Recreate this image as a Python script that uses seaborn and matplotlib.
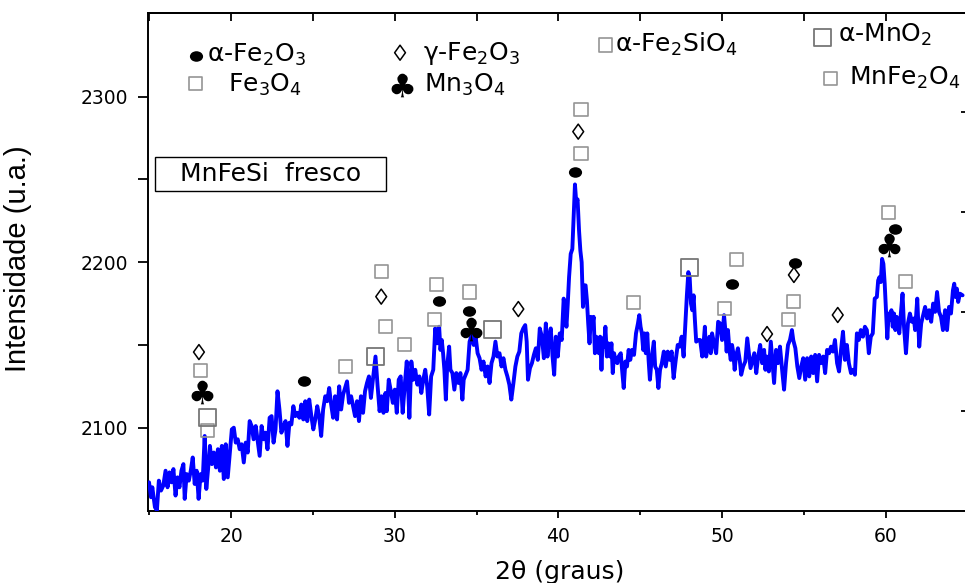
import numpy as np
import pandas as pd
import matplotlib
matplotlib.use("Agg")
import matplotlib.pyplot as plt
from matplotlib.path import Path
from matplotlib.patches import Rectangle
import seaborn as sns

# ---------------- data ----------------
two_theta_a = [14.98,15.10,15.18,15.34,15.46,15.58,15.71,15.85,15.99,16.11,16.23,16.35,16.47,16.60,16.72,16.84,16.96,17.08,17.16,17.28,
               17.41,17.53,17.65,17.77,17.89,18.01,18.13,18.26,18.38,18.48,18.58,18.70,18.82,18.94,19.07,19.19,19.31,19.43,19.55,19.67,
               19.79,19.92,20.04,20.16,20.28,20.40,20.52,20.64,20.77,20.89,21.01,21.13,21.25,21.37,21.50,21.62,21.74,21.86,21.98,22.10,
               22.22,22.35,22.47,22.59,22.71,22.83,22.95,23.07,23.20,23.32,23.44,23.56,23.68,23.80,23.92,24.05,24.17,24.29,24.41,24.53,
               24.65,24.77,24.90,25.02,25.14,25.26,25.38,25.50,25.62,25.75,25.87,25.99,26.11,26.23,26.35,26.47,26.60,26.72,26.84,26.96,27.08]
intensity_a = [2067,2058,2064,2052,2050,2068,2062,2065,2074,2064,2073,2067,2075,2059,2070,2064,2074,2078,2057,2072,
               2068,2074,2082,2066,2074,2057,2072,2068,2095,2063,2074,2089,2078,2085,2076,2087,2074,2089,2069,2090,
               2070,2085,2099,2100,2091,2093,2087,2090,2079,2091,2085,2104,2101,2093,2101,2092,2083,2101,2093,2097,
               2087,2106,2107,2091,2099,2122,2111,2097,2101,2104,2089,2103,2102,2113,2107,2109,2106,2114,2105,2116,
               2104,2117,2107,2099,2105,2113,2107,2095,2111,2119,2116,2124,2114,2106,2119,2105,2125,2111,2120,2124,2128]

two_theta_b = [27.20,27.33,27.45,27.57,27.69,27.81,27.93,28.06,28.18,28.30,28.42,28.54,28.66,28.82,28.95,29.07,29.19,29.31,29.43,29.51,
               29.63,29.76,29.88,30.00,30.12,30.24,30.36,30.48,30.61,30.73,30.81,30.89,31.01,31.13,31.25,31.38,31.50,31.62,31.74,31.86,
               31.98,32.10,32.22,32.35,32.47,32.59,32.71,32.79,32.87,32.95,33.03,33.12,33.20,33.32,33.40,33.52,33.64,33.76,33.89,34.01,
               34.13,34.21,34.33,34.45,34.57,34.70,34.82,34.94,35.06,35.18,35.30,35.42,35.55,35.67,35.79,35.91,36.03,36.15,36.27,36.40,
               36.52,36.64,36.76,36.88,37.00,37.12,37.25,37.37,37.49,37.61,37.73,37.85,37.97,38.06,38.14,38.26,38.38,38.50,38.62,38.74,
               38.86,38.99,39.11,39.23]
intensity_b = [2115,2119,2113,2107,2116,2104,2119,2109,2122,2127,2131,2118,2129,2143,2125,2110,2119,2109,2121,2110,
               2129,2122,2115,2123,2109,2129,2131,2109,2126,2140,2125,2106,2140,2129,2135,2126,2131,2121,2129,2135,
               2125,2108,2131,2135,2160,2151,2161,2147,2153,2145,2135,2117,2137,2149,2135,2133,2123,2133,2127,2133,
               2117,2129,2132,2135,2152,2156,2150,2155,2145,2142,2135,2140,2131,2137,2127,2139,2143,2152,2143,2145,
               2137,2142,2135,2131,2126,2117,2127,2137,2143,2146,2157,2160,2162,2152,2129,2136,2139,2144,2148,2141,
               2160,2155,2142,2163]

two_theta_c = [39.33,39.43,39.53,39.64,39.74,39.84,39.96,40.08,40.20,40.32,40.40,40.49,40.57,40.65,40.75,40.85,40.95,41.01,41.09,41.17,
               41.26,41.34,41.42,41.50,41.58,41.66,41.74,41.82,41.90,41.98,42.06,42.15,42.23,42.31,42.39,42.47,42.55,42.63,42.71,42.79,
               42.87,42.96,43.04,43.16,43.24,43.32,43.40,43.48,43.60,43.68,43.81,43.89,43.99,44.09,44.19,44.29,44.39,44.49,44.62,44.74,
               44.86,44.94,45.02,45.10,45.18,45.26,45.34,45.43,45.51,45.59,45.71,45.83,45.91,46.01,46.11,46.21,46.32,46.44,46.56,46.68,
               46.80,46.92,47.04,47.17,47.29,47.41,47.53,47.65,47.77,47.85,47.94,48.02,48.10,48.18,48.26,48.34,48.42,48.54,48.66,48.79,
               48.87,48.95,49.03,49.11,49.23,49.31,49.39,49.51,49.64,49.76,49.88,50.00,50.12,50.20,50.28,50.36,50.45,50.53,50.61,50.69,
               50.77,50.85,50.97,51.09,51.17,51.29,51.42,51.54,51.66,51.74]
intensity_c = [2143,2155,2160,2143,2132,2155,2143,2157,2153,2178,2171,2161,2175,2191,2205,2208,2232,2247,2236,2238,
               2219,2207,2200,2173,2186,2186,2177,2163,2151,2167,2161,2167,2145,2155,2153,2145,2155,2135,2154,2149,
               2161,2143,2151,2143,2151,2133,2145,2141,2139,2143,2145,2135,2124,2140,2137,2147,2141,2147,2144,2157,
               2163,2168,2161,2157,2147,2157,2145,2157,2141,2129,2143,2152,2137,2135,2124,2135,2139,2146,2137,2146,
               2141,2146,2130,2141,2150,2149,2155,2143,2165,2180,2194,2191,2175,2171,2180,2165,2152,2153,2153,2143,
               2151,2161,2143,2149,2155,2145,2157,2151,2145,2164,2163,2153,2168,2159,2146,2159,2147,2141,2150,2145,
               2135,2143,2148,2140,2132,2137,2140,2154,2143,2136]

two_theta_d = [51.84,51.97,52.09,52.21,52.33,52.45,52.57,52.65,52.73,52.86,52.98,53.10,53.18,53.30,53.42,53.54,53.67,53.79,53.91,54.03,
               54.15,54.27,54.35,54.48,54.60,54.72,54.84,54.96,55.08,55.20,55.33,55.45,55.57,55.69,55.81,55.93,56.05,56.18,56.30,56.42,
               56.54,56.66,56.78,56.90,57.03,57.15,57.27,57.39,57.51,57.63,57.75,57.88,58.00,58.12,58.24,58.36,58.48,58.61,58.73,58.85,
               58.97,59.09,59.21,59.33,59.46,59.54,59.62,59.70,59.78,59.86,59.94,60.02,60.10,60.18,60.27,60.35,60.43,60.51,60.59,60.67,
               60.75,60.83,60.91,61.03,61.12,61.24,61.36,61.48,61.60,61.72,61.80,61.93,62.05,62.17,62.29,62.41,62.53,62.65,62.78,62.90,
               63.02,63.14,63.26,63.38,63.50,63.63,63.75,63.87,63.99,64.11,64.19,64.27,64.35,64.43,64.54,64.70]
intensity_d = [2140,2145,2133,2143,2150,2139,2147,2135,2143,2134,2152,2137,2127,2147,2139,2149,2135,2123,2139,2150,
               2153,2159,2153,2148,2137,2130,2137,2142,2129,2142,2131,2143,2133,2144,2128,2144,2139,2143,2133,2147,
               2145,2149,2146,2153,2139,2134,2147,2158,2141,2150,2139,2133,2135,2132,2157,2153,2159,2155,2161,2159,
               2145,2155,2157,2178,2179,2189,2191,2188,2202,2199,2187,2170,2154,2169,2165,2171,2161,2169,2159,2167,
               2164,2157,2167,2181,2161,2145,2163,2169,2164,2166,2159,2178,2149,2163,2168,2173,2166,2171,2164,2175,
               2170,2182,2170,2167,2159,2171,2159,2173,2169,2183,2187,2179,2184,2176,2181,2180]

# peak identification markers (2theta, intensity position of symbol)
hematite_x = [24.43, 32.73, 34.55, 40.99, 50.61, 54.47, 60.55]
hematite_y = [2128.2, 2176.6, 2170.5, 2254.5, 2186.8, 2199.7, 2220.1]
maghemite_x = [18.03, 29.17, 37.55, 41.21, 52.75, 54.39, 57.07]
maghemite_y = [2145.7, 2179.2, 2171.7, 2278.9, 2156.6, 2192.3, 2168.1]
hausmannite_x = [18.24, 34.66, 60.18]
hausmannite_y = [2121.4, 2159.5, 2210.4]
spinel_x = [18.12, 18.58, 26.98, 29.17, 29.43, 30.59, 32.53, 32.43, 34.58, 41.38, 41.38, 44.60, 50.89, 50.14, 54.38, 54.09, 60.16, 61.22]
spinel_y = [2134.3, 2098.2, 2136.9, 2194.3, 2161.4, 2150.0, 2186.8, 2165.1, 2182.0, 2292.0, 2265.8, 2175.4, 2201.9, 2171.9, 2176.0, 2165.1, 2229.9, 2188.2]
mno2_x = [18.56, 28.84, 35.95, 48.00]
mno2_y = [2106.3, 2143.3, 2159.6, 2197.1]

x_ticks = [20, 30, 40, 50, 60]
x_minor = [15, 25, 35, 45, 55, 65]
y_ticks = [2100, 2200, 2300]
y_minor = [2150, 2250]

# ---------------- style ----------------
sns.set_style("ticks")
plt.rcParams["font.family"] = ["DejaVu Sans"]
plt.rcParams["mathtext.fontset"] = "dejavusans"
for k in ["text.color", "axes.labelcolor", "xtick.color", "ytick.color", "axes.edgecolor"]:
    plt.rcParams[k] = "black"

fig = plt.figure(figsize=(9.65, 5.83), dpi=100)
ax = fig.add_axes([0.15368, 0.12401, 0.84891, 0.85317])

df = pd.DataFrame({
    "two_theta": np.concatenate([two_theta_a, two_theta_b, two_theta_c, two_theta_d]),
    "intensity": np.concatenate([intensity_a, intensity_b, intensity_c, intensity_d]),
})
sns.lineplot(data=df, x="two_theta", y="intensity", estimator=None, sort=False,
             color="#0000ff", linewidth=2.8, ax=ax, legend=False, zorder=3)

ax.set_xlim(14.935, 64.69)
ax.set_ylim(2049.85, 2350.4)

# markers
uc = Path.unit_circle()
ellipse = Path(uc.vertices * np.array([1.0, 0.8]), uc.codes)
diamond = Path([(0, 1), (0.72, 0), (0, -1), (-0.72, 0), (0, 1)],
               [Path.MOVETO, Path.LINETO, Path.LINETO, Path.LINETO, Path.CLOSEPOLY])
club = "$\u2663$"

def circle_mk(x, y, **kw):
    ax.scatter(x, y, marker=ellipse, s=90, c="black", linewidths=0, zorder=6, **kw)

def diamond_mk(x, y, **kw):
    ax.scatter(x, y, marker=diamond, s=117, facecolors="none", edgecolors="black", linewidths=1.1, zorder=6, **kw)

def club_mk(x, y, **kw):
    ax.scatter(x, y, marker=club, s=290, c="black", linewidths=0, zorder=6, **kw)

def small_sq(x, y, **kw):
    ax.scatter(x, y, marker="s", s=88, facecolors="none", edgecolors="#959595", linewidths=1.2, zorder=6, **kw)

def big_sq(x, y, **kw):
    ax.scatter(x, y, marker="s", s=150, facecolors="none", edgecolors="#767676", linewidths=1.3, zorder=6, **kw)

circle_mk(hematite_x, hematite_y)
diamond_mk(maghemite_x, maghemite_y)
club_mk(hausmannite_x, hausmannite_y)
small_sq(spinel_x, spinel_y)
big_sq(mno2_x, mno2_y)

# phase key
T = ax.transAxes
fs = 18
circle_mk([0.0582], [0.9142], transform=T, clip_on=False)
ax.text(0.0720, 0.9021, "\u03b1-Fe$_2$O$_3$", transform=T, fontsize=fs, va="baseline")
small_sq([0.0582], [0.8593], transform=T, clip_on=False)
ax.text(0.0969, 0.8418, "Fe$_3$O$_4$", transform=T, fontsize=fs, va="baseline")
diamond_mk([0.3073], [0.9208], transform=T, clip_on=False)
ax.text(0.3350, 0.9061, "\u03b3-Fe$_2$O$_3$", transform=T, fontsize=fs, va="baseline")
club_mk([0.3093], [0.8558], transform=T, clip_on=False)
ax.text(0.3365, 0.8425, "Mn$_3$O$_4$", transform=T, fontsize=fs, va="baseline")
small_sq([0.5584], [0.9363], transform=T, clip_on=False)
ax.text(0.5697, 0.9228, "\u03b1-Fe$_2$SiO$_4$", transform=T, fontsize=fs, va="baseline")
big_sq([0.8228], [0.9517], transform=T, clip_on=False)
ax.text(0.8423, 0.9429, "\u03b1-MnO$_2$", transform=T, fontsize=fs, va="baseline")
small_sq([0.8322], [0.8693], transform=T, clip_on=False)
ax.text(0.8553, 0.8559, "MnFe$_2$O$_4$", transform=T, fontsize=fs, va="baseline")

# sample label box
ax.add_patch(Rectangle((0.00818, 0.6433), 0.2820, 0.06836, transform=T,
                       facecolor="white", edgecolor="black", linewidth=1.0, zorder=7))
ax.text(0.1492, 0.6775, "MnFeSi  fresco", transform=T, fontsize=fs,
        ha="center", va="center", zorder=8)

# axes & ticks
ax.set_xticks(x_ticks)
ax.set_xticks(x_minor, minor=True)
ax.set_yticks(y_ticks)
ax.set_yticks(y_minor, minor=True)
ax.tick_params(axis="x", which="major", direction="out", length=5, width=1.3, labelsize=13.5, pad=6.5)
ax.tick_params(axis="x", which="minor", direction="out", length=3, width=1.3)
ax.tick_params(axis="y", which="both", direction="out", length=7, width=1.3, labelsize=13.5, pad=7.5)
for s in ["left", "bottom", "top"]:
    ax.spines[s].set_linewidth(1.4)
    ax.spines[s].set_color("black")
ax.spines["right"].set_visible(False)

top = ax.secondary_xaxis("top")
top.set_xticks([15, 20, 25, 30, 35, 40, 45, 50, 55, 60, 65])
top.tick_params(direction="in", length=6, width=1.3, labeltop=False)
top.spines["top"].set_linewidth(1.4)

right = ax.secondary_yaxis("right")
right.set_yticks([2109.8, 2170.2, 2230.6, 2291.0])
right.tick_params(direction="in", length=4, width=1.3, labelright=False)

ax.set_xlabel("2\u03b8 (graus)", fontsize=18)
ax.xaxis.set_label_coords(0.5026, -0.099)
ax.set_ylabel("Intensidade (u.a.)", fontsize=21, family=["Liberation Sans", "DejaVu Sans"])
ax.yaxis.set_label_coords(-0.142, 0.506)

fig.savefig("out.png", dpi=100)
